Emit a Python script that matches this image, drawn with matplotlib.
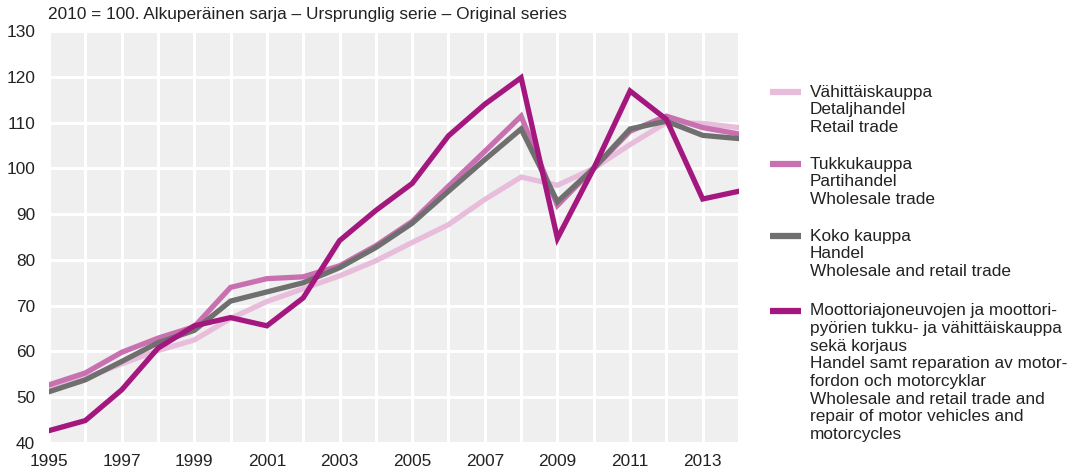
import matplotlib
matplotlib.use('Agg')
import matplotlib.pyplot as plt
from matplotlib.lines import Line2D
import numpy as np

plt.rcParams['font.family'] = ['Liberation Sans', 'DejaVu Sans']

years = np.arange(1995, 2015)
retail = [52.3, 54.2, 57.3, 60.2, 62.5, 67.2, 70.9, 73.7, 76.5, 79.8, 83.8, 87.7,
          93.2, 98.1, 96.3, 100.0, 105.2, 110.0, 109.8, 108.9]
wholesale = [52.7, 55.3, 59.8, 62.9, 65.4, 74.0, 75.9, 76.3, 78.7, 83.1, 88.4, 96.1,
             103.7, 111.4, 91.9, 100.0, 108.1, 111.4, 108.9, 107.5]
total = [51.2, 53.8, 57.8, 61.9, 64.6, 71.0, 73.0, 75.0, 78.3, 82.7, 88.0, 95.0,
         101.9, 108.6, 92.7, 100.0, 108.6, 110.3, 107.2, 106.5]
motor = [42.7, 44.9, 51.6, 60.7, 65.6, 67.4, 65.6, 71.7, 84.2, 90.8, 96.7, 107.1,
         114.0, 119.8, 84.7, 100.0, 116.9, 110.7, 93.3, 95.0]

series = [retail, wholesale, total, motor]
colors = ['#e8bddb', '#c870b0', '#6f6f6f', '#a4177f']
labels = [
    ['Vähittäiskauppa', 'Detaljhandel', 'Retail trade'],
    ['Tukkukauppa', 'Partihandel', 'Wholesale trade'],
    ['Koko kauppa', 'Handel', 'Wholesale and retail trade'],
    ['Moottoriajoneuvojen ja moottori-', 'pyörien tukku- ja vähittäiskauppa',
     'sekä korjaus', 'Handel samt reparation av motor-', 'fordon och motorcyklar',
     'Wholesale and retail trade and', 'repair of motor vehicles and', 'motorcycles'],
]

fs = 12.4
fig = plt.figure(figsize=(10.81, 4.75), dpi=100)
ax = fig.add_axes([49 / 1081, 32 / 475, 690 / 1081, 412 / 475])
ax.set_facecolor('#efefef')

for s, c in zip(series, colors):
    ax.plot(years, s, color=c, lw=3.8, solid_joinstyle='miter', zorder=3)

ax.set_xlim(1995, 2014)
ax.set_ylim(40, 130)
ax.set_xticks(years, minor=True)
ax.set_xticks(np.arange(1995, 2014, 2))
ax.set_yticks(np.arange(40, 131, 10))
ax.grid(True, which='both', axis='x', color='white', lw=2.2, zorder=1)
ax.grid(True, axis='y', color='white', lw=2.2, zorder=1)
ax.set_axisbelow(True)
for sp in ax.spines.values():
    sp.set_visible(False)
ax.tick_params(which='both', length=0)
ax.tick_params(axis='y', pad=10, labelsize=fs, colors='#222222')
ax.tick_params(axis='x', pad=8, labelsize=fs, colors='#222222')

fig.text(48 / 1081, 1 - 14 / 475, '2010 = 100. Alkuperäinen sarja – Ursprunglig serie – Original series',
         fontsize=fs, color='#222222', va='center', ha='left')

# legend drawn by hand so the line sits beside the first text row
starts = [92, 164, 236, 311]
row_h = 17.6
for lab, c, y0 in zip(labels, colors, starts):
    fig.add_artist(Line2D([770 / 1081, 801 / 1081], [1 - y0 / 475] * 2, color=c, lw=4.5,
                          solid_capstyle='butt'))
    for i, line in enumerate(lab):
        fig.text(810 / 1081, 1 - (y0 + i * row_h) / 475, line, fontsize=fs,
                 color='#222222', va='center', ha='left')

fig.savefig('out.png', dpi=100)
